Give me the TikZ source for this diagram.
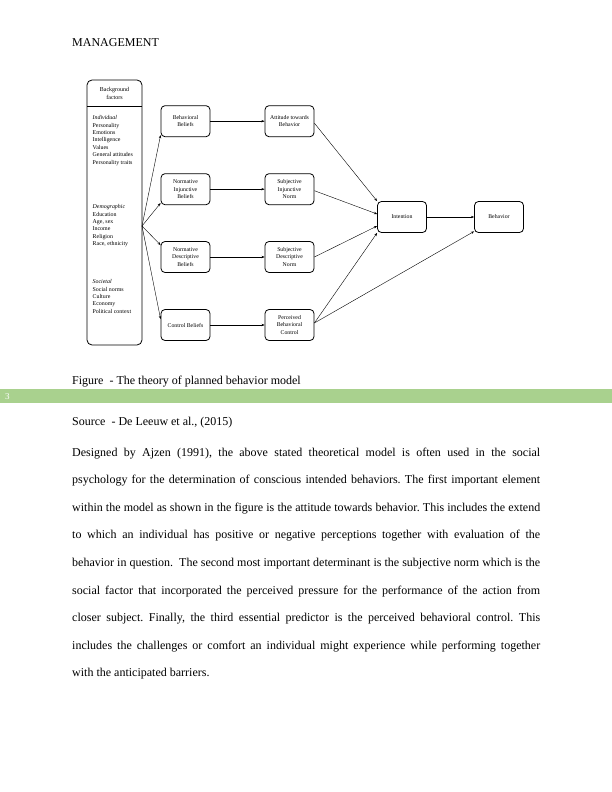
\documentclass[tikz,border=0pt]{standalone}
\usepackage{fontspec}
\setmainfont{Liberation Serif}
\usetikzlibrary{arrows.meta,calc}
\definecolor{band}{HTML}{A9D18E}
\frenchspacing
\begin{document}
\begin{tikzpicture}[x=1pt,y=-1pt,
  box/.style={draw,rounded corners=4pt,line width=0.8pt,minimum width=49pt,minimum height=31pt,align=center,font=\fontsize{5.8}{7.4}\selectfont,inner sep=1pt},
  conn/.style={line width=0.4pt,-{Stealth[length=3.2pt,width=2.4pt]}},
  small/.style={anchor=north west,align=left,inner sep=0pt,font=\fontsize{5.9}{7.4}\selectfont},
  body/.style={anchor=base west,inner sep=0pt,font=\fontsize{12}{14}\selectfont}]
\useasboundingbox[fill=white] (0,0) rectangle (612,792);

\node[body] (hdr) at (72,47) {MANAGEMENT};

% background factors box
\node[draw,rounded corners=5pt,line width=0.8pt,minimum width=55pt,minimum height=265pt,inner sep=0pt] (bg) at (114.5,212.5) {};
\coordinate (sepL) at (87,106);
\coordinate (sepR) at (142,106);
\draw[line width=0.6pt] (sepL) -- (sepR);
\node[align=center,inner sep=0pt,font=\fontsize{6}{8.2}\selectfont] (bgt) at (114.5,93.5) {Background\\factors};
\node[small] (ind) at (92.5,115.5) {\textit{Individual}\\Personality\\Emotions\\Intelligence\\Values\\General attitudes\\Personality traits};
\node[small] (dem) at (92.5,204.5) {\textit{Demographic}\\Education\\Age, sex\\Income\\Religion\\Race, ethnicity};
\node[small] (soc) at (92.5,279.5) {\textit{Societal}\\Social norms\\Culture\\Economy\\Political context};
\coordinate (hub) at (142,226);

% belief boxes
\node[box] (bb) at (185.5,121.2) {Behavioral\\Beliefs};
\node[box] (nib) at (185.5,189.2) {Normative\\Injunctive\\Beliefs};
\node[box] (ndb) at (185.5,257) {Normative\\Descriptive\\Beliefs};
\node[box] (cb) at (185.5,325) {Control Beliefs};

% middle boxes
\node[box] (att) at (289.5,121.2) {Attitude towards\\Behavior};
\node[box] (sin) at (289.5,189.2) {Subjective\\Injunctive\\Norm};
\node[box] (sdn) at (289.5,257) {Subjective\\Descriptive\\Norm};
\node[box] (pbc) at (289.5,325) {Perceived\\Behavioral\\Control};

% right boxes
\node[box] (int) at (402,217) {Intention};
\node[box] (beh) at (499,217) {Behavior};

% connectors from background
\draw[conn] (hub) -- ([yshift=2pt]bb.south west);
\draw[conn] (hub) -- ([yshift=2pt]nib.south west);
\draw[conn] (hub) -- ([yshift=-4pt]ndb.north west);
\draw[conn] (hub) -- ([yshift=-10pt]cb.north west);

% beliefs to middle
\draw[conn] (bb) -- (att);
\draw[conn] (nib) -- (sin);
\draw[conn] (ndb) -- (sdn);
\draw[conn] (cb) -- (pbc);

% middle to intention
\draw[conn] ([yshift=-2pt]att.east) -- (int.north west);
\draw[conn] ([yshift=-1.5pt]sin.east) -- ([yshift=3pt]int.west);
\draw[conn] (sdn.east) -- ([yshift=-9pt]int.west);
\draw[conn] ([yshift=2pt]pbc.east) -- (int.south west);
\draw[conn] ([yshift=2pt]pbc.east) -- ([yshift=1.5pt]beh.south west);
\draw[conn] (int) -- (beh);

% caption and band
\node[body] (cap) at (72,384) {Figure\ \ - The theory of planned behavior model};
\fill[band] (0,389) rectangle (612,403);
\node[anchor=base west,inner sep=0pt,text=white,font=\fontsize{9}{9}\selectfont] (pg) at (5,399.5) {3};
\node[body] (src) at (72,425) {Source\ \ - De Leeuw et al., (2015)};

% paragraph
\node[body] (p1) at (72,456) {\makebox[468pt][s]{Designed by Ajzen (1991), the above stated theoretical model is often used in the social}};
\node[body] (p2) at (72,483.6) {\makebox[468pt][s]{psychology for the determination of conscious intended behaviors. The first important element}};
\node[body] (p3) at (72,511.2) {\makebox[468pt][s]{within the model as shown in the figure is the attitude towards behavior. This includes the extend}};
\node[body] (p4) at (72,538.8) {\makebox[468pt][s]{to which an individual has positive or negative perceptions together with evaluation of the}};
\node[body] (p5) at (72,566.4) {\makebox[468pt][s]{behavior in question.\ \ The second most important determinant is the subjective norm which is the}};
\node[body] (p6) at (72,594) {\makebox[468pt][s]{social factor that incorporated the perceived pressure for the performance of the action from}};
\node[body] (p7) at (72,621.6) {\makebox[468pt][s]{closer subject. Finally, the third essential predictor is the perceived behavioral control. This}};
\node[body] (p8) at (72,649.2) {\makebox[468pt][s]{includes the challenges or comfort an individual might experience while performing together}};
\node[body] (p9) at (72,676.8) {with the anticipated barriers.};
\end{tikzpicture}
\end{document}
